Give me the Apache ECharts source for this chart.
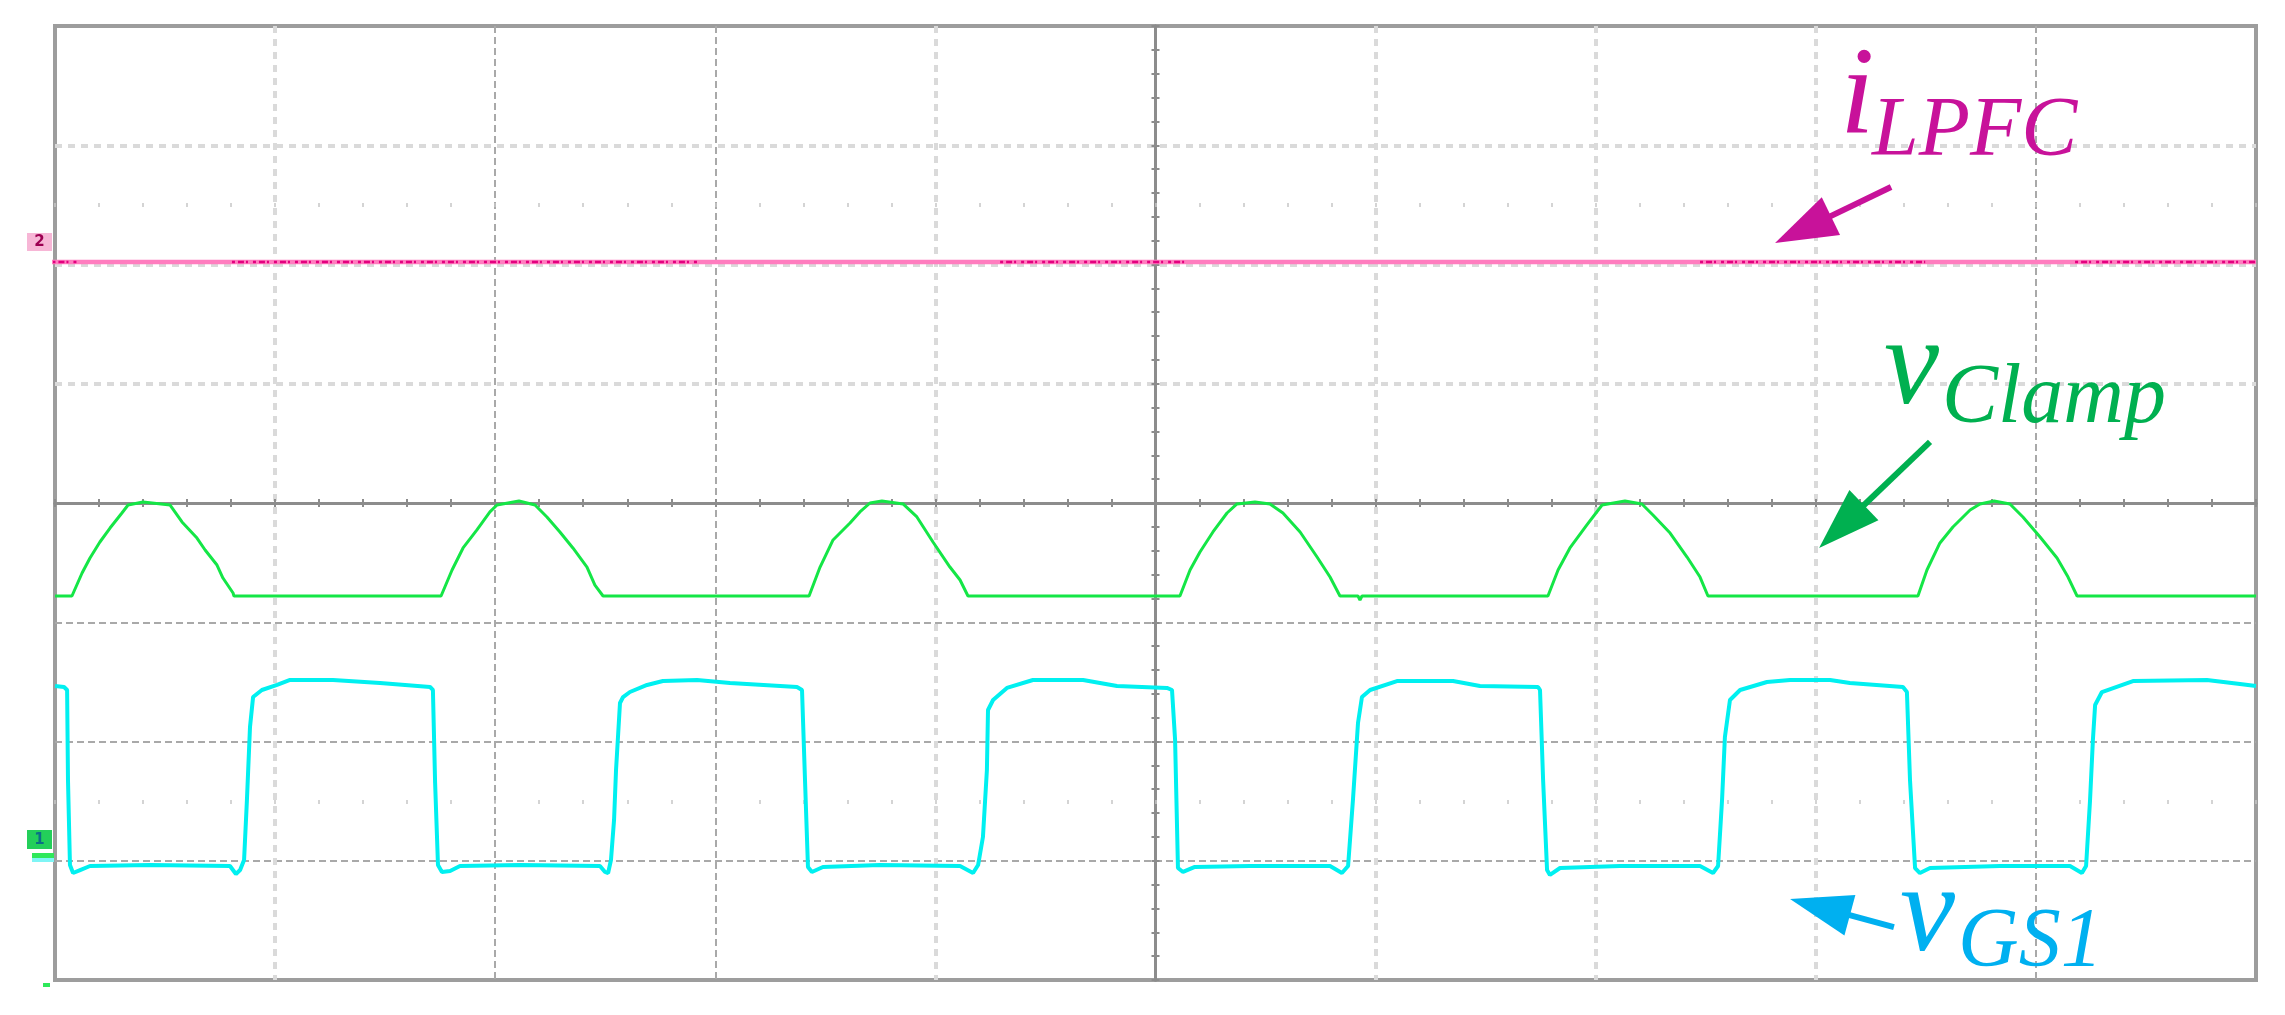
<!DOCTYPE html>
<html>
<head>
<meta charset="utf-8">
<title>iLPFC / vClamp / vGS1</title>
<script src="https://cdn.jsdelivr.net/npm/echarts@6.0.0/dist/echarts.min.js"></script>
<style>
  html, body { margin: 0; padding: 0; background: #fff; }
  #chart { width: 2285px; height: 1015px; }
</style>
</head>
<body>
<div id="chart"></div>
<script>
// all values are in screen divisions, 0 = centre of the graticule
const xRange = [-5, 5];
const yRange = [-4, 4];

// iLPFC: flat trace, plus the stretches where the dark noise shows
const iLpfcLevel = 2.021;
const iLpfcPts = [[-5.107, 2.021], [5.0, 2.021]];
const iLpfcNoise = [[-5.107, -4.891], [-4.196, -2.07], [-0.706, 0.134], [2.474, 3.497], [4.178, 5.0]];

// vClamp
const vClampPts = [
  [-5.000, -0.780], [-4.923, -0.780], [-4.877, -0.587], [-4.841, -0.461], [-4.796, -0.327], [-4.750, -0.210],
  [-4.696, -0.084], [-4.668, -0.017], [-4.600, 0.008], [-4.477, -0.017], [-4.423, -0.159], [-4.355, -0.294],
  [-4.318, -0.394], [-4.264, -0.520], [-4.237, -0.629], [-4.191, -0.755], [-4.187, -0.780],
  [-3.246, -0.780], [-3.196, -0.562], [-3.146, -0.377], [-3.083, -0.226], [-3.024, -0.075], [-2.992, -0.017],
  [-2.892, 0.017], [-2.819, -0.017], [-2.765, -0.117], [-2.706, -0.243], [-2.647, -0.377], [-2.583, -0.537],
  [-2.547, -0.688], [-2.510, -0.780],
  [-1.574, -0.780], [-1.524, -0.537], [-1.465, -0.310], [-1.388, -0.168], [-1.343, -0.075], [-1.297, 0.000],
  [-1.243, 0.017], [-1.147, -0.008], [-1.084, -0.117], [-1.011, -0.327], [-0.934, -0.537], [-0.888, -0.646],
  [-0.852, -0.780],
  [0.111, -0.780], [0.157, -0.562], [0.202, -0.411], [0.261, -0.243], [0.325, -0.084], [0.370, -0.008],
  [0.452, 0.008], [0.520, -0.008], [0.579, -0.084], [0.657, -0.243], [0.734, -0.453], [0.793, -0.621],
  [0.838, -0.780], [0.920, -0.780], [0.929, -0.815], [0.938, -0.780],
  [1.783, -0.780], [1.829, -0.562], [1.883, -0.377], [1.960, -0.184], [2.029, -0.017], [2.133, 0.017],
  [2.210, -0.008], [2.260, -0.101], [2.338, -0.252], [2.415, -0.453], [2.474, -0.621], [2.510, -0.780],
  [3.464, -0.780], [3.505, -0.562], [3.564, -0.335], [3.623, -0.201], [3.701, -0.059], [3.746, -0.008],
  [3.810, 0.017], [3.882, -0.008], [3.941, -0.117], [4.019, -0.285], [4.096, -0.461], [4.146, -0.621],
  [4.187, -0.780], [5.000, -0.780]
];

// vGS1
const vGs1Pts = [
  [-5.000, -1.535], [-4.959, -1.543], [-4.945, -1.568], [-4.941, -2.323], [-4.932, -3.036], [-4.918, -3.103],
  [-4.886, -3.078], [-4.841, -3.044], [-4.568, -3.036], [-4.205, -3.044], [-4.178, -3.111], [-4.159, -3.078],
  [-4.141, -2.994], [-4.128, -2.491], [-4.114, -1.878], [-4.100, -1.627], [-4.060, -1.568], [-3.991, -1.526],
  [-3.932, -1.484], [-3.737, -1.484], [-3.523, -1.509], [-3.296, -1.543], [-3.283, -1.568],
  [-3.273, -2.348], [-3.260, -3.036], [-3.242, -3.094], [-3.205, -3.086], [-3.160, -3.044], [-2.887, -3.036],
  [-2.524, -3.044], [-2.501, -3.094], [-2.487, -3.103], [-2.474, -2.994], [-2.460, -2.658], [-2.451, -2.239],
  [-2.433, -1.677], [-2.419, -1.627], [-2.388, -1.585], [-2.310, -1.526], [-2.238, -1.493], [-2.083, -1.484],
  [-1.933, -1.509], [-1.629, -1.543], [-1.606, -1.568],
  [-1.592, -2.348], [-1.579, -3.052], [-1.561, -3.094], [-1.511, -3.052], [-1.252, -3.036], [-0.888, -3.044],
  [-0.829, -3.103], [-0.806, -3.036], [-0.784, -2.801], [-0.766, -2.239], [-0.761, -1.736], [-0.738, -1.652],
  [-0.675, -1.551], [-0.557, -1.484], [-0.329, -1.484], [-0.175, -1.535], [0.052, -1.551], [0.075, -1.568],
  [0.089, -1.987], [0.102, -3.061], [0.125, -3.094], [0.179, -3.052], [0.429, -3.044], [0.793, -3.044],
  [0.847, -3.103], [0.875, -3.044], [0.897, -2.491], [0.920, -1.845], [0.938, -1.627], [0.975, -1.568],
  [1.097, -1.493], [1.352, -1.493], [1.474, -1.535], [1.738, -1.543], [1.747, -1.568],
  [1.761, -2.323], [1.779, -3.078], [1.792, -3.119], [1.838, -3.061], [2.110, -3.044], [2.474, -3.044],
  [2.533, -3.103], [2.556, -3.044], [2.574, -2.491], [2.587, -1.962], [2.610, -1.652], [2.656, -1.568],
  [2.778, -1.501], [2.883, -1.484], [3.065, -1.484], [3.155, -1.509], [3.396, -1.543], [3.414, -1.585],
  [3.428, -2.323], [3.451, -3.061], [3.473, -3.103], [3.519, -3.061], [3.837, -3.044], [4.155, -3.044],
  [4.209, -3.103], [4.228, -3.044], [4.246, -2.491], [4.259, -1.987], [4.269, -1.694], [4.300, -1.585],
  [4.441, -1.493], [4.777, -1.484], [4.927, -1.518], [5.000, -1.535]
];

// annotation anchors (left / baseline of the text, tail and tip of the arrows)
const labels = [
  { text: 'i', at: [3.110, 3.103], size: 124, color: '#c8129a' },
  { text: 'LPFC', at: [3.255, 2.918], size: 84, color: '#c8129a' },
  { text: 'v', at: [3.310, 0.839], size: 124, color: '#00b050' },
  { text: 'Clamp', at: [3.573, 0.679], size: 84, color: '#00b050' },
  { text: 'v', at: [3.383, -3.748], size: 124, color: '#00b0f0' },
  { text: 'GS1', at: [3.646, -3.883], size: 84, color: '#00b0f0' }
];
const arrows = [
  { tail: [3.342, 2.650], tip: [2.815, 2.180], color: '#c8129a' },
  { tail: [3.519, 0.512], tip: [3.015, -0.377], color: '#00b050' },
  { tail: [3.355, -3.556], tip: [2.883, -3.321], color: '#00b0f0' }
];

const none = 'rgba(0,0,0,0)';
const light = '#dadada';
const dark = '#a9a9a9';
const axisGray = '#8c8c8c';

let chart = echarts.init(document.getElementById('chart'));

// noise stretches drawn as a broken line ('-' breaks it)
let noiseData = [];
iLpfcNoise.forEach(function (seg) {
  noiseData.push([seg[0], iLpfcLevel], [seg[1], iLpfcLevel], [seg[1], '-']);
});

function centreAxis(dim, inside, splitColors, splitStyle) {
  return {
    type: 'value',
    gridIndex: 0,
    min: dim === 'x' ? xRange[0] : yRange[0],
    max: dim === 'x' ? xRange[1] : yRange[1],
    interval: 1,
    position: dim === 'x' ? 'bottom' : 'left',
    axisLine: { show: true, onZero: true, onZeroAxisIndex: 0, lineStyle: { color: axisGray, width: 3 } },
    axisTick: { show: true, inside: inside, length: 4, lineStyle: { color: axisGray, width: 2 } },
    minorTick: { show: true, splitNumber: 5, length: 4, lineStyle: { color: axisGray, width: 2 } },
    axisLabel: { show: false },
    splitLine: {
      show: true,
      showMinLine: true,
      showMaxLine: true,
      lineStyle: Object.assign({ color: splitColors }, splitStyle)
    }
  };
}

// the dotted rows at +-2.5 div are the ticks of two thin extra grids
function dotAxis(gridIndex) {
  return {
    type: 'value', gridIndex: gridIndex, min: xRange[0], max: xRange[1], interval: 1, position: 'bottom',
    axisLine: { show: false, onZero: false },
    axisTick: { show: true, inside: true, length: 4, lineStyle: { color: '#c6c6c6', width: 1.5 } },
    minorTick: { show: true, splitNumber: 5, length: 4, lineStyle: { color: '#c6c6c6', width: 1.5 } },
    axisLabel: { show: false },
    splitLine: { show: false }
  };
}
function hiddenY(gridIndex) {
  return { type: 'value', gridIndex: gridIndex, min: 0, max: 1, show: false };
}

const lightStyle = { width: 4, type: [7, 6] };
const darkStyle = { width: 2, type: [7, 4] };

chart.setOption({
  backgroundColor: '#ffffff',
  animation: false,
  grid: [
    { left: 55, top: 26, width: 2201, height: 954, show: true, borderColor: '#9d9d9d', borderWidth: 4, containLabel: false, outerBoundsMode: 'none' },
    { left: 55, top: 203, width: 2201, height: 4, outerBoundsMode: 'none' },
    { left: 55, top: 800, width: 2201, height: 4, outerBoundsMode: 'none' }
  ],
  xAxis: [
    centreAxis('x', true, [none, light, none, none, light, none, light, light, light, none, none], lightStyle),
    centreAxis('x', false, [none, none, dark, dark, none, none, none, none, none, dark, none], darkStyle),
    dotAxis(1),
    dotAxis(2)
  ],
  yAxis: [
    centreAxis('y', true, [none, none, none, none, none, light, light, light, none], lightStyle),
    centreAxis('y', false, [none, dark, dark, dark, none, none, none, none, none], darkStyle),
    hiddenY(1),
    hiddenY(2)
  ],
  series: [
    {
      name: 'iLPFC',
      type: 'line',
      data: iLpfcPts,
      showSymbol: false,
      clip: false, // the trace starts a little left of the frame
      lineStyle: { color: '#ff7dbf', width: 4.5 },
      z: 3
    },
    {
      name: 'iLPFC noise',
      type: 'line',
      data: noiseData,
      showSymbol: false,
      clip: false,
      connectNulls: false,
      lineStyle: { color: '#e3007f', width: 2.5, type: [3, 3, 6, 2, 2, 5] },
      z: 4
    },
    {
      name: 'vClamp',
      type: 'line',
      data: vClampPts,
      showSymbol: false,
      lineStyle: { color: '#14e646', width: 3 },
      z: 5
    },
    {
      name: 'vGS1',
      type: 'line',
      data: vGs1Pts,
      showSymbol: false,
      lineStyle: { color: '#00f0f0', width: 4 },
      z: 6
    }
  ]
});

// annotations, placed through the grid's own coordinate conversion
function px(p) {
  return chart.convertToPixel({ gridIndex: 0 }, p);
}
let graphics = [];
arrows.forEach(function (a) {
  let t = px(a.tail), h = px(a.tip);
  let dx = h[0] - t[0], dy = h[1] - t[1];
  let len = Math.sqrt(dx * dx + dy * dy);
  let ux = dx / len, uy = dy / len;
  let headLen = 62, headW = 42;
  let bx = h[0] - ux * headLen, by = h[1] - uy * headLen;
  graphics.push({
    type: 'line',
    shape: { x1: t[0], y1: t[1], x2: bx + ux * 6, y2: by + uy * 6 },
    style: { stroke: a.color, lineWidth: 6 },
    z: 10
  });
  graphics.push({
    type: 'polygon',
    shape: { points: [[h[0], h[1]], [bx - uy * headW / 2, by + ux * headW / 2], [bx + uy * headW / 2, by - ux * headW / 2]] },
    style: { fill: a.color },
    z: 10
  });
});
labels.forEach(function (l) {
  let p = px(l.at);
  graphics.push({
    type: 'text',
    x: p[0],
    y: p[1] - 0.265 * l.size, // baseline -> middle of the em box
    style: {
      text: l.text,
      fill: l.color,
      fontStyle: 'italic',
      fontSize: l.size,
      fontFamily: '"Liberation Serif", "DejaVu Serif", serif',
      align: 'left',
      verticalAlign: 'middle'
    },
    z: 10
  });
});
// channel markers at the left edge
graphics.push(
  { type: 'rect', shape: { x: 27, y: 233, width: 25, height: 18 }, style: { fill: '#f7b6d6' }, z: 10 },
  { type: 'text', x: 39.5, y: 242, style: { text: '2', fill: '#9c0052', fontSize: 15, fontWeight: 'bold', fontFamily: 'DejaVu Sans', align: 'center', verticalAlign: 'middle' }, z: 11 },
  { type: 'rect', shape: { x: 27, y: 830, width: 25, height: 19 }, style: { fill: '#23cf5a' }, z: 10 },
  { type: 'text', x: 39.5, y: 840, style: { text: '1', fill: '#0b6f86', fontSize: 15, fontWeight: 'bold', fontFamily: 'DejaVu Sans', align: 'center', verticalAlign: 'middle' }, z: 11 },
  { type: 'rect', shape: { x: 32, y: 853, width: 22, height: 5 }, style: { fill: '#2ee85a' }, z: 10 },
  { type: 'rect', shape: { x: 32, y: 858, width: 22, height: 4 }, style: { fill: '#7ff5f5' }, z: 10 },
  { type: 'rect', shape: { x: 43, y: 983, width: 7, height: 4 }, style: { fill: '#2ee85a' }, z: 10 }
);
chart.setOption({ graphic: graphics });
</script>
</body>
</html>
